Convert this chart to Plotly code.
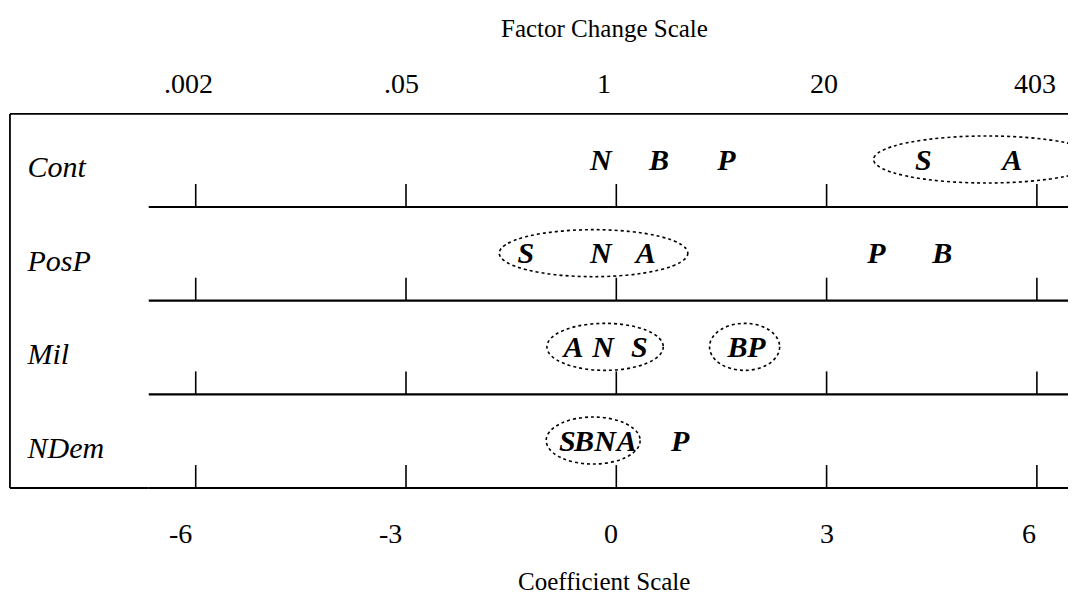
import plotly.graph_objects as go

# rows of the odds ratio plot (top to bottom)
rows = ["Cont", "PosP", "Mil", "NDem"]

# letters placed on each row and their coefficients (logit scale)
row_letters = [
    ["N", "B", "P", "S", "A"],
    ["S", "N", "A", "P", "B"],
    ["A", "N", "S", "B", "P"],
    ["S", "B", "N", "A", "P"],
]
row_coefs = [
    [-0.22, 0.61, 1.57, 4.38, 5.65],
    [-1.29, -0.22, 0.42, 3.71, 4.65],
    [-0.61, -0.19, 0.33, 1.73, 2.00],
    [-0.70, -0.46, -0.16, 0.15, 0.91],
]

# dotted groupings (row index, left coef, right coef)
group_row = [0, 1, 2, 2, 3]
group_lo = [3.67, -1.67, -0.99, 1.33, -1.00]
group_hi = [6.90, 1.02, 0.67, 2.33, 0.34]

# axis ticks
coef_ticks = [-6, -3, 0, 3, 6]
coef_labels = ["-6", "-3", "0", "3", "6"]
factor_labels = [".002", ".05", "1", "20", "403"]

serif = "Liberation Serif, Times New Roman, serif"

# view window (coefficient units across, row units down); page has an 8px body margin
X_MIN, X_MAX = -8.678, 6.672
Y_TOP, Y_BOT = -2.124, 4.270
LINE_START = -6.67
BOX_LEFT = -8.65
BOX_TOP = -0.993
TICK_H = 0.245
# small label nudges seen in the original figure (pixels)
top_shift = [-7, -5, -12, -3, -2]
bottom_shift = [-15, -16, -5, 0, -8]

fig = go.Figure()

# row baselines + tick marks
lx, ly = [], []
for i in range(len(rows)):
    lx += [LINE_START, X_MAX + 1, None]
    ly += [i, i, None]
tx, ty = [], []
for i in range(len(rows)):
    for t in coef_ticks:
        tx += [t, t, None]
        ty += [i, i - TICK_H, None]

fig.add_trace(go.Scatter(x=lx, y=ly, mode="lines",
                         line=dict(color="black", width=2.2),
                         hoverinfo="skip", showlegend=False))
fig.add_trace(go.Scatter(x=tx, y=ty, mode="lines",
                         line=dict(color="black", width=1.6),
                         hoverinfo="skip", showlegend=False))

# row names
fig.add_trace(go.Scatter(x=[-8.4] * len(rows), y=[i - 0.40 for i in range(len(rows))],
                         text=rows, mode="text", textposition="middle right",
                         textfont=dict(family=serif, size=30, style="italic", color="black"),
                         hoverinfo="skip", showlegend=False, cliponaxis=False))

# letters
px, py, pt = [], [], []
for i in range(len(rows)):
    for let, c in zip(row_letters[i], row_coefs[i]):
        px.append(c)
        py.append(i - 0.48)
        pt.append(let)
fig.add_trace(go.Scatter(x=px, y=py, text=pt, mode="text", textposition="middle center",
                         textfont=dict(family=serif, size=30, style="italic",
                                       weight="bold", color="black"),
                         hoverinfo="skip", showlegend=False, cliponaxis=False))

# scale labels top and bottom
for t, lab, sh in zip(coef_ticks, factor_labels, top_shift):
    fig.add_annotation(x=t, y=-1.32, text=lab, showarrow=False, xshift=sh,
                       font=dict(family=serif, size=28, color="black"))
for t, lab, sh in zip(coef_ticks, coef_labels, bottom_shift):
    fig.add_annotation(x=t, y=3.49, text=lab, showarrow=False, xshift=sh,
                       font=dict(family=serif, size=28, color="black"))

fig.add_annotation(x=-0.175, y=-1.91, text="Factor Change Scale", showarrow=False,
                   font=dict(family=serif, size=25, color="black"))
fig.add_annotation(x=-0.175, y=4.0, text="Coefficient Scale", showarrow=False,
                   font=dict(family=serif, size=25, color="black"))

# dotted ellipses around groups
for r, lo, hi in zip(group_row, group_lo, group_hi):
    fig.add_shape(type="circle", xref="x", yref="y", x0=lo, x1=hi,
                  y0=r - 0.758, y1=r - 0.256,
                  line=dict(color="black", width=1.6, dash="dot"))

# outer frame
fig.add_shape(type="line", xref="x", yref="y", x0=BOX_LEFT, x1=X_MAX + 1,
              y0=BOX_TOP, y1=BOX_TOP, line=dict(color="black", width=1.8))
fig.add_shape(type="line", xref="x", yref="y", x0=BOX_LEFT, x1=BOX_LEFT,
              y0=BOX_TOP, y1=len(rows) - 1, line=dict(color="black", width=1.8))
fig.add_shape(type="line", xref="x", yref="y", x0=BOX_LEFT, x1=LINE_START,
              y0=len(rows) - 1, y1=len(rows) - 1, line=dict(color="black", width=2.2))

fig.update_xaxes(range=[X_MIN, X_MAX], visible=False, fixedrange=True)
fig.update_yaxes(range=[Y_BOT, Y_TOP], visible=False, fixedrange=True)
fig.update_layout(width=1076, height=599, margin=dict(l=0, r=0, t=0, b=0),
                  plot_bgcolor="white", paper_bgcolor="white")

fig.write_html("out.html")
